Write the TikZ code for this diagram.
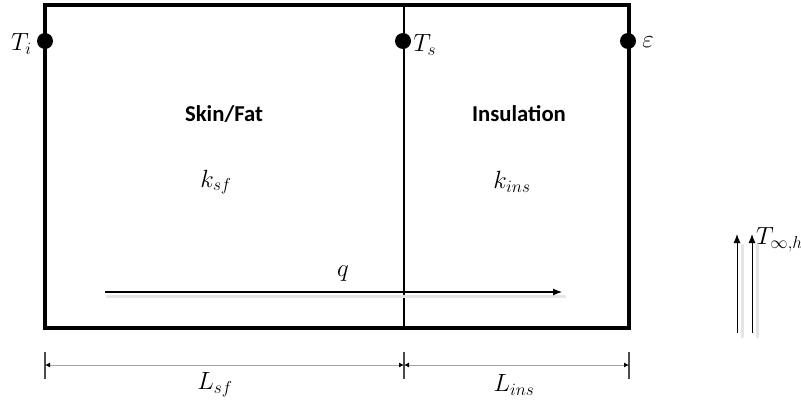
\documentclass[tikz,border=0pt]{standalone}
\usepackage{amsmath}
\usepackage{fontspec}
\setsansfont{Carlito}
\usetikzlibrary{
  arrows.meta,
  calc,
  positioning
}
\definecolor{WallBlack}{HTML}{000000}
\colorlet{DimGray}{black!35}
\colorlet{ShadowGray}{black!10}
\tikzset{
  >=Latex,
  every node/.style = {font=\fontsize{26}{30}\selectfont, text=black, inner sep=1pt},
  wall/.style = {draw=WallBlack, line width=4.6pt},
  divider/.style = {draw=WallBlack, line width=1.3pt},
  probe/.style = {circle, fill=black, minimum size=16pt, inner sep=0pt},
  layer title/.style = {font=\sffamily\bfseries\fontsize{22.7}{26}\selectfont},
  flux/.style = {-{Latex[length=9pt,width=7pt]}, draw=black, line width=1.1pt},
  flux shadow/.style = {draw=ShadowGray, line width=3pt, line cap=round},
  dim line/.style = {{Latex[length=5pt,width=5pt,color=black]}-{Latex[length=5pt,width=5pt,color=black]}, draw=DimGray, line width=0.9pt},
  dim tick/.style = {draw=black!70, line width=1.4pt},
}

\begin{document}
\begin{tikzpicture}[x=1pt,y=-1pt]
  \useasboundingbox (0,0) rectangle (801,404);

  % slab
  \coordinate (nw) at (45,5);
  \coordinate (se) at (629,328);
  \coordinate (midtop) at (404,5);
  \coordinate (midbot) at (404,328);
  \draw[divider] (midtop) -- (midbot);
  \draw[wall] (nw) rectangle (se);

  \node[probe] (ti) at (45,41) {};
  \node[probe] (ts) at (403,41) {};
  \node[probe] (eps) at (628,41) {};
  \node[left=4pt of ti, yshift=-3pt] (tilabel) {$T_i$};
  \node[right=1pt of ts, yshift=-4pt] (tslabel) {$T_s$};
  \node[right=5pt of eps, yshift=-1pt] (epslabel) {$\varepsilon$};

  \node[layer title] (skin) at (224,114) {Skin/Fat};
  \node[layer title] (ins) at (519,114) {Insulation};
  \node (ksf) at (216,182) {$k_{sf}$};
  \node (kins) at (512,182) {$k_{ins}$};

  % heat flux
  \coordinate (qstart) at (105,292);
  \coordinate (qend) at (562,292);
  \draw[flux shadow] ($(qstart)+(2,4)$) -- ($(qend)+(3,4)$);
  \draw[flux] (qstart) -- (qend);
  \node (q) at (343,274) {$q$};

  % dimensions
  \coordinate (d0) at (45,365);
  \coordinate (d1) at (404,365);
  \coordinate (d2) at (629,365);
  \foreach \d in {d0,d1,d2}
    \draw[dim tick] ($(\d)+(0,-13)$) -- ($(\d)+(0,14)$);
  \draw[dim line] (d0) -- (d1);
  \draw[dim line] (d1) -- (d2);
  \node (lsf) at (215,385) {$L_{sf}$};
  \node (lins) at (514,385) {$L_{ins}$};

  % ambient
  \coordinate (a1) at (737,333);
  \coordinate (a2) at (752,333);
  \foreach \a in {a1,a2} {
    \draw[flux shadow] ($(\a)+(5,4)$) -- ($(\a)+(5,-88)$);
    \draw[flux, line width=1pt] (\a) -- ++(0,-99);
  }
  \node[anchor=west] (tinf) at (755,240) {$T_{\infty,h}$};
\end{tikzpicture}
\end{document}
